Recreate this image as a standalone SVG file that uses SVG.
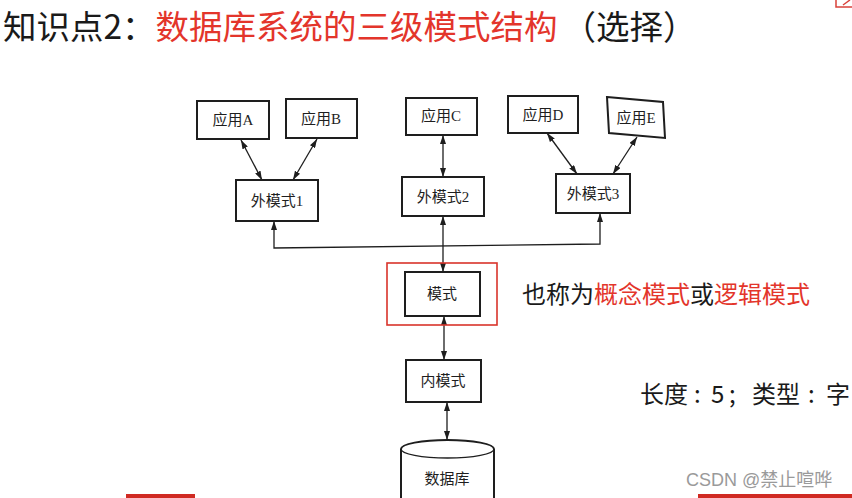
<svg xmlns="http://www.w3.org/2000/svg" width="852" height="498" viewBox="0 0 852 498">
<defs>
<style>
.box{fill:#fff;stroke:#1e1e1e;stroke-width:2}
.lbl{font-family:"Liberation Serif","Noto Sans CJK SC",serif;font-size:15px;fill:#1e1e1e;text-anchor:middle;dominant-baseline:central}
.con{fill:none;stroke:#1e1e1e;stroke-width:1.3}
.red{fill:#e3352b}
.blk{fill:#1a1a1a}
.big{font-family:"Noto Sans CJK SC","Noto Sans",sans-serif}
</style>
<marker id="ah" viewBox="0 0 9 6" refX="9" refY="3" markerWidth="9" markerHeight="6" markerUnits="userSpaceOnUse" orient="auto-start-reverse">
<path d="M0,0 L9,3 L0,6 z" fill="#1e1e1e"/>
</marker>
</defs>
<rect width="852" height="498" fill="#fff"/>
<g id="title" class="big" font-size="33.5">
<text x="3" y="39"><tspan class="blk">知识点2：</tspan><tspan class="red">数据库系统的三级模式结构</tspan><tspan class="blk" dx="5">（选择）</tspan></text>
</g>
<g id="corner"><rect x="836" y="-12" width="30" height="19" fill="none" stroke="#d9423a" stroke-width="1.5"/><path d="M843,5 L850,0" stroke="#d9423a" stroke-width="1.5"/></g>
<g id="connectors">
<line class="con" x1="241" y1="140" x2="262" y2="180" marker-start="url(#ah)" marker-end="url(#ah)"/>
<line class="con" x1="317" y1="139" x2="293" y2="180" marker-start="url(#ah)" marker-end="url(#ah)"/>
<line class="con" x1="443" y1="135" x2="443" y2="177" marker-start="url(#ah)" marker-end="url(#ah)"/>
<line class="con" x1="547" y1="133" x2="577" y2="174" marker-start="url(#ah)" marker-end="url(#ah)"/>
<line class="con" x1="637" y1="137" x2="613" y2="174" marker-start="url(#ah)" marker-end="url(#ah)"/>
<polyline class="con" points="274,221 274,248 600,244 600,213" marker-start="url(#ah)" marker-end="url(#ah)"/>
<line class="con" x1="443" y1="216" x2="443" y2="272" marker-start="url(#ah)" marker-end="url(#ah)"/>
<line class="con" x1="444" y1="316" x2="444" y2="360" marker-start="url(#ah)" marker-end="url(#ah)"/>
<line class="con" x1="447" y1="402" x2="447" y2="440" marker-start="url(#ah)" marker-end="url(#ah)"/>
</g>
<g id="appA"><rect class="box" x="197" y="101" width="72" height="38"/><text class="lbl" x="233" y="120">应用A</text></g>
<g id="appB"><rect class="box" x="286" y="99" width="71" height="39"/><text class="lbl" x="321" y="119">应用B</text></g>
<g id="appC"><rect class="box" x="406" y="98" width="71" height="37"/><text class="lbl" x="441" y="116">应用C</text></g>
<g id="appD"><rect class="box" x="508" y="96" width="70" height="37"/><text class="lbl" x="543" y="115">应用D</text></g>
<g id="appE"><polygon class="box" points="607,97 663,102 665,138 609,133"/><text class="lbl" x="636" y="118" font-size="14">应用E</text></g>
<g id="ext1"><rect class="box" x="236" y="180" width="82" height="41"/><text class="lbl" x="277" y="201" font-size="16">外模式1</text></g>
<g id="ext2"><rect class="box" x="402" y="177" width="82" height="39"/><text class="lbl" x="443" y="197" font-size="16">外模式2</text></g>
<g id="ext3"><rect class="box" x="556" y="174" width="74" height="39"/><text class="lbl" x="593" y="194" font-size="16">外模式3</text></g>
<g id="schema">
<rect x="387" y="263" width="110" height="62" fill="none" stroke="#d9342b" stroke-width="1.6"/>
<rect class="box" x="405" y="272" width="75" height="44"/><text class="lbl" x="442" y="294">模式</text>
</g>
<g id="internal"><rect class="box" x="406" y="360" width="75" height="42"/><text class="lbl" x="443" y="381" font-size="17">内模式</text></g>
<g id="database">
<path class="box" d="M401,449 A46.5,9 0 0 1 494,449 V510 H401 Z"/>
<path class="con" d="M401,449 A46.5,9 0 0 0 494,449" stroke-width="2"/>
<text class="lbl" x="447" y="479" font-size="18">数据库</text>
</g>
<g id="note1" class="big" font-size="24">
<text x="522" y="303"><tspan class="blk">也称为</tspan><tspan class="red">概念模式</tspan><tspan class="blk">或</tspan><tspan class="red">逻辑模式</tspan></text>
</g>
<g id="note2" class="big" font-size="24" fill="#1a1a1a">
<text x="640" y="403">长度</text>
<text x="694" y="403">:</text>
<text x="711" y="403">5</text>
<text x="729" y="403">;</text>
<text x="752" y="403">类型</text>
<text x="808" y="403">:</text>
<text x="826" y="403">字</text>
</g>
<g id="watermark"><text x="686" y="486" font-family="'Liberation Sans','Noto Sans CJK SC',sans-serif" font-size="18" fill="#9a9a9a">CSDN @禁止喧哗</text></g>
<g id="bars"><rect x="126" y="494" width="69" height="6" fill="#d02a22"/><rect x="698" y="494" width="154" height="6" fill="#d02a22"/></g>
</svg>
